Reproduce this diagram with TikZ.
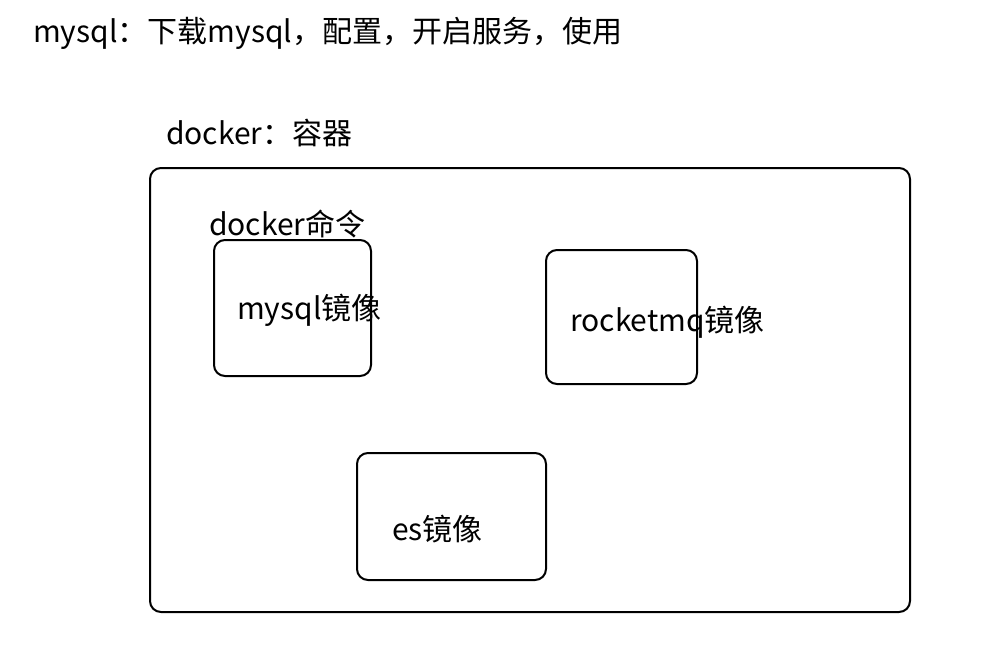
\documentclass[tikz,border=0pt]{standalone}
\usepackage{fontspec}
\setmainfont{Noto Sans CJK SC}
\begin{document}
\begin{tikzpicture}[x=1pt,y=-1pt,
  box/.style={draw=black,line width=2pt,rounded corners=11pt},
  lbl/.style={anchor=west,inner sep=0pt,font=\fontsize{30}{32}\selectfont}]
\useasboundingbox[fill=white] (0,0) rectangle (981,659);
\node[lbl] (title) at (33,33) {mysql：下载mysql，配置，开启服务，使用};
\node[lbl] (dk) at (166,133) {docker：容器};
\draw[box] (150,168) rectangle (910,612);
\node[lbl] (cmd) at (209,224) {docker命令};
\draw[box] (214,240) rectangle (371,376);
\node[lbl] (my) at (237,310) {mysql镜像};
\draw[box] (546,250) rectangle (697,384);
\node[lbl] (rq) at (570,322) {rocketmq镜像};
\draw[box] (357,453) rectangle (546,580);
\node[lbl] (es) at (392,529) {es镜像};
\end{tikzpicture}
\end{document}
